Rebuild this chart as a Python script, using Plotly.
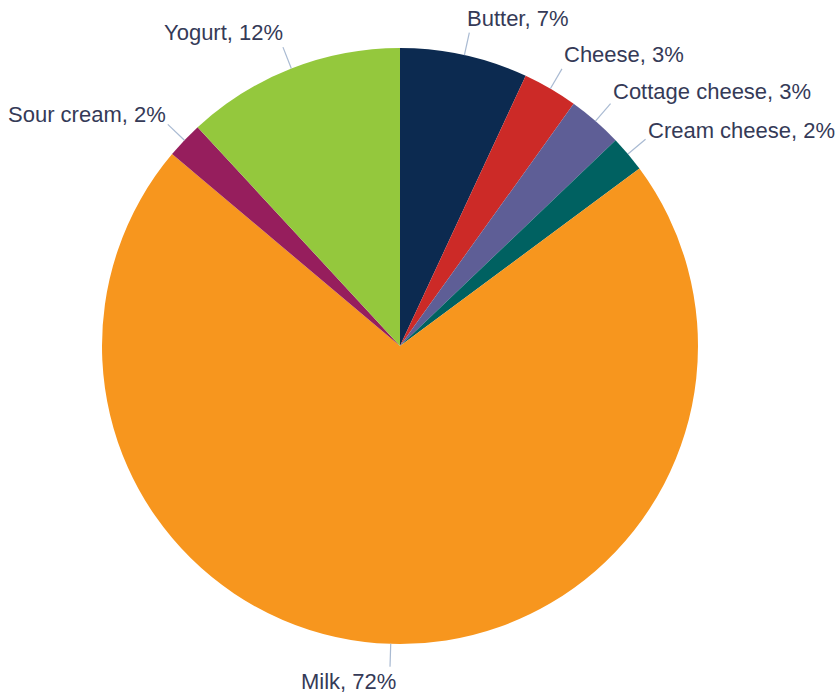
import math
import plotly.graph_objects as go

# Share of dairy consumption by product
products = ["Butter", "Cheese", "Cottage cheese", "Cream cheese", "Milk", "Sour cream", "Yogurt"]
shares = [7, 3, 3, 2, 72, 2, 12]
colors = ["#0c2a50", "#cc2a27", "#5e5e96", "#006161", "#f7961e", "#961e5d", "#94c83d"]

WIDTH, HEIGHT = 839, 696
MARGIN = dict(l=102, r=141, t=48, b=52)
LABEL_FONT = dict(family="Liberation Sans, Arial, sans-serif", size=22, color="#353a57")
CONNECTOR_COLOR = "#a9bad2"
CONNECTOR_LEN = 23  # px beyond the rim

fig = go.Figure(
    go.Pie(
        labels=products,
        values=shares,
        sort=False,
        direction="clockwise",
        rotation=0,
        marker=dict(colors=colors, line=dict(width=0)),
        textinfo="none",
        hovertemplate="%{label}, %{value}%<extra></extra>",
        showlegend=False,
    )
)

# Pie geometry in pixels (plotly fits the pie into the square plot area)
plot_w = WIDTH - MARGIN["l"] - MARGIN["r"]
plot_h = HEIGHT - MARGIN["t"] - MARGIN["b"]
cx = MARGIN["l"] + plot_w / 2
cy = MARGIN["t"] + plot_h / 2
radius = min(plot_w, plot_h) / 2


def to_paper(px, py):
    return (px - MARGIN["l"]) / plot_w, 1 - (py - MARGIN["t"]) / plot_h


# Outside labels with connector lines at each slice's mid-angle
total = sum(shares)
cum = 0
for name, value in zip(products, shares):
    mid = (cum + value / 2) / total * 2 * math.pi
    cum += value
    s, c = math.sin(mid), math.cos(mid)
    x0, y0 = to_paper(cx + radius * s, cy - radius * c)
    x1, y1 = to_paper(cx + (radius + CONNECTOR_LEN) * s, cy - (radius + CONNECTOR_LEN) * c)
    fig.add_shape(
        type="line", xref="paper", yref="paper",
        x0=x0, y0=y0, x1=x1, y1=y1,
        line=dict(color=CONNECTOR_COLOR, width=1.2),
    )
    inward = max(0.0, 8 - 15 * abs(s))
    # labels on flatter connectors sit lower, closer to the line end
    drop = 0.0
    if c > 0:
        gap = min(8.0, max(0.5, (abs(c) - 0.62) * 32))
        drop = max(0.0, 7 - gap)
    fig.add_annotation(
        xref="paper", yref="paper", x=x1, y=y1,
        text=f"{name}, {value}%",
        showarrow=False,
        xanchor="left" if s > 0 else "right",
        yanchor="bottom" if c > 0 else "top",
        xshift=-inward if s > 0 else inward,
        yshift=-drop,
        font=LABEL_FONT,
    )

fig.update_layout(
    width=WIDTH,
    height=HEIGHT,
    margin=MARGIN,
    paper_bgcolor="white",
    plot_bgcolor="white",
)

fig.write_html("out.html")
